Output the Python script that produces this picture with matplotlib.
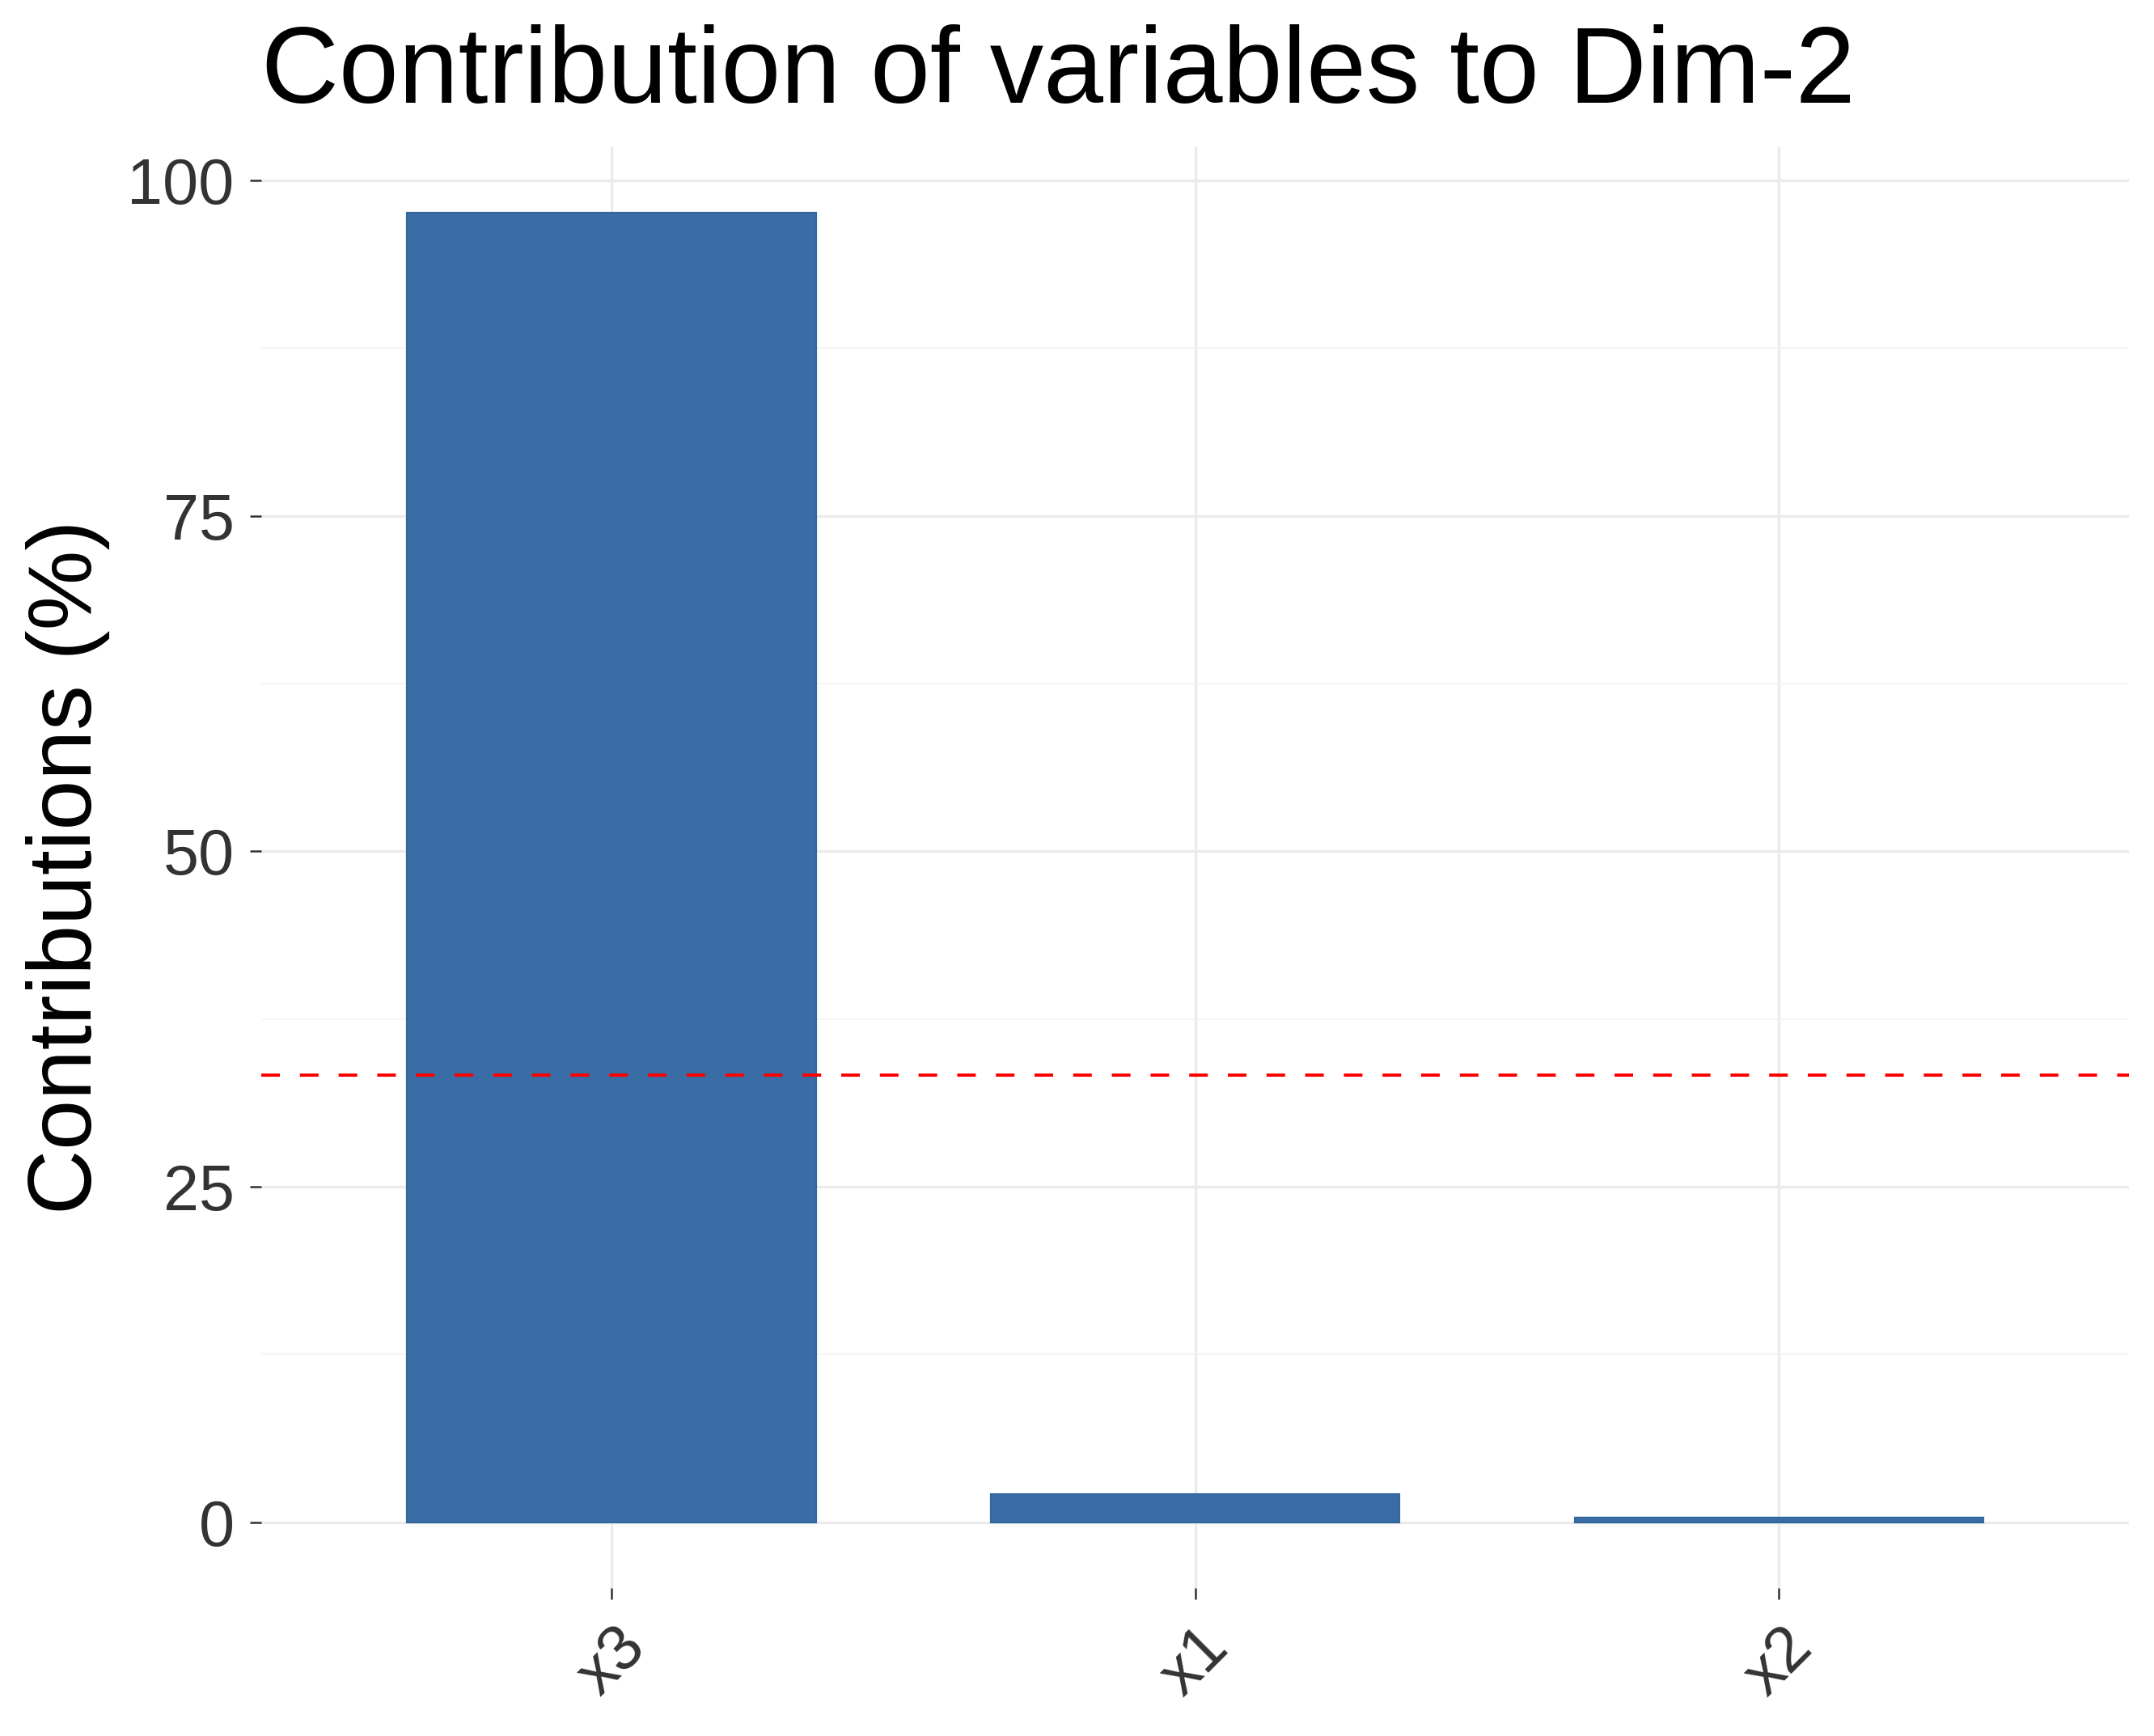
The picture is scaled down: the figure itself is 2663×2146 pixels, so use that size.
import matplotlib
matplotlib.use("Agg")
import matplotlib.pyplot as plt
from matplotlib.ticker import MultipleLocator

plt.rcParams['font.family'] = ['Liberation Sans', 'DejaVu Sans']

# data
variables = ["x3", "x1", "x2"]
contrib = [97.6, 2.1, 0.35]
expected = 100 / 3  # red reference line (uniform contribution)
yticks = [0, 25, 50, 75, 100]

bar_color = "#3A6DA5"
grid_major = "#EBEBEB"
grid_minor = "#F3F3F3"

fig = plt.figure(figsize=(2663 / 200, 2146 / 200), dpi=200)
ax = fig.add_axes([0.1213, 0.0855, 0.8671, 0.8297])

pos = list(range(1, len(variables) + 1))
ax.bar(pos, contrib, width=0.7, color=bar_color, edgecolor="#34669F",
       linewidth=0.8, zorder=3)
ax.axhline(expected, color="red", linewidth=1.44,
           linestyle=(0, (5.75, 6.2)), zorder=4)

ax.set_xlim(0.4, 3.6)
top = max(contrib) * 1.05
ax.set_ylim(-max(contrib) * 0.05, top)

ax.set_xticks(pos)
ax.set_xticklabels(variables, rotation=45, ha="center", fontsize=28.5,
                   color="#333333")
ax.set_yticks(yticks)
ax.set_yticklabels([str(t) for t in yticks], fontsize=28.5, color="#333333")
ax.yaxis.set_minor_locator(MultipleLocator(12.5))

ax.tick_params(axis="both", which="major", length=5, width=0.9,
               color="#333333")
ax.tick_params(axis="x", pad=8)
ax.tick_params(axis="y", pad=7)
ax.tick_params(axis="y", which="minor", length=0)

ax.grid(True, which="major", color=grid_major, linewidth=1.2, zorder=0)
ax.grid(True, which="minor", axis="y", color=grid_minor, linewidth=0.6,
        zorder=0)
ax.set_axisbelow(True)
for s in ax.spines.values():
    s.set_visible(False)

ax.set_ylabel("Contributions (%)", fontsize=40, color="black")
ax.yaxis.set_label_coords(-0.081, 0.5)

fig.text(323 / 2663, 1 - 127 / 2146, "Contribution of variables to Dim-2",
         fontsize=47.8, ha="left", va="baseline", color="black")

fig.savefig("out.png", dpi=200, facecolor="white")
